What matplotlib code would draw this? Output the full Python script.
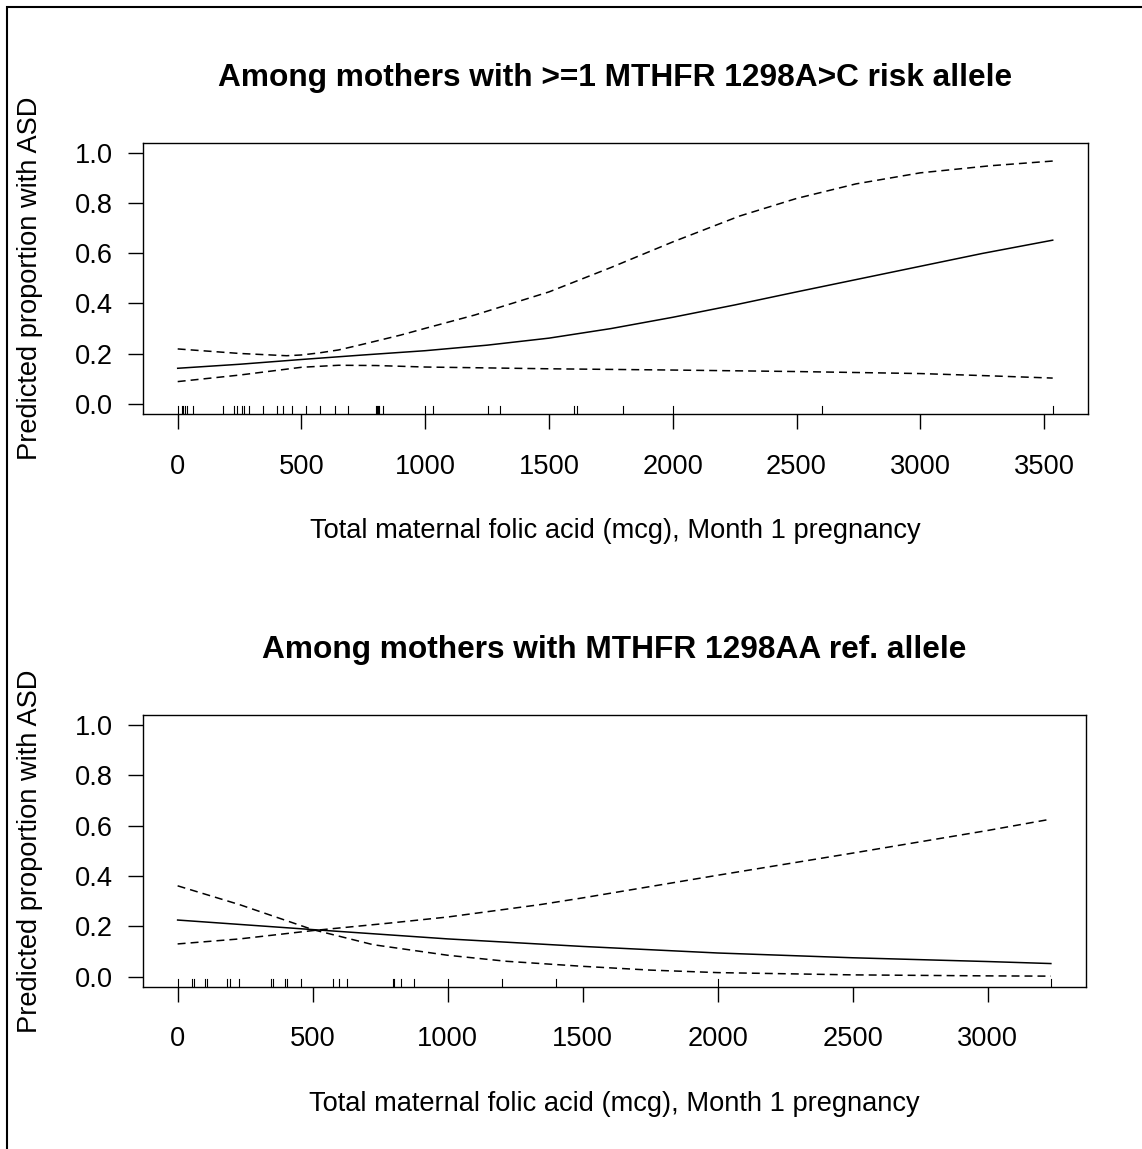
import matplotlib
matplotlib.use("Agg")
import matplotlib.pyplot as plt
from matplotlib.patches import Rectangle

plt.rcParams['font.family'] = ['Liberation Sans', 'DejaVu Sans']

# ---- panel 1: >=1 MTHFR 1298A>C risk allele ----
top_title = "Among mothers with >=1 MTHFR 1298A>C risk allele"
top_fit_x = [0, 250, 500, 750, 1000, 1250, 1500, 1750, 2000, 2250, 2500, 2750, 3000, 3250, 3535]
top_fit_y = [0.142, 0.158, 0.177, 0.195, 0.212, 0.234, 0.262, 0.300, 0.345, 0.394, 0.446, 0.497,
             0.548, 0.599, 0.652]
top_hi_x = [0, 250, 440, 500, 570, 650, 720, 800, 900, 1000, 1200, 1500, 1750, 2000, 2270, 2500,
            2740, 3000, 3280, 3535]
top_hi_y = [0.219, 0.201, 0.192, 0.195, 0.203, 0.215, 0.231, 0.250, 0.274, 0.301, 0.354, 0.446,
            0.543, 0.645, 0.748, 0.818, 0.876, 0.920, 0.948, 0.967]
top_lo_x = [0, 250, 500, 650, 800, 1000, 1500, 2000, 2500, 3000, 3280, 3535]
top_lo_y = [0.089, 0.115, 0.146, 0.154, 0.153, 0.147, 0.140, 0.135, 0.129, 0.121, 0.112, 0.103]
top_rug = [0, 16, 23, 31, 39, 61, 182, 228, 238, 260, 267, 288, 344, 400, 424, 461,
           520, 573, 635, 686, 800, 805, 809, 815, 828, 1000, 1030, 1252, 1301,
           1603, 1613, 1799, 2000, 2601, 3535]
top_xticks = [0, 500, 1000, 1500, 2000, 2500, 3000, 3500]

# ---- panel 2: MTHFR 1298AA reference ----
bot_title = "Among mothers with MTHFR 1298AA ref. allele"
bot_fit_x = [0, 500, 1000, 1500, 2000, 2500, 3000, 3234]
bot_fit_y = [0.225, 0.187, 0.150, 0.120, 0.094, 0.075, 0.060, 0.052]
bot_hi_x = [0, 230, 500, 786, 1000, 1341, 1500, 2000, 2500, 3000, 3234]
bot_hi_y = [0.130, 0.150, 0.183, 0.213, 0.237, 0.286, 0.313, 0.403, 0.491, 0.581, 0.626]
bot_lo_x = [0, 230, 500, 724, 1000, 1218, 1500, 1750, 2000, 2500, 3000, 3234]
bot_lo_y = [0.361, 0.286, 0.187, 0.127, 0.085, 0.061, 0.041, 0.026, 0.016, 0.007, 0.003, 0.002]
bot_rug = [0, 54, 60, 102, 110, 183, 193, 227, 347, 354, 399, 404, 458, 574, 596,
           628, 797, 803, 826, 875, 1000, 1200, 1400, 2000, 3234]
bot_xticks = [0, 500, 1000, 1500, 2000, 2500, 3000]

yticks = [0.0, 0.2, 0.4, 0.6, 0.8, 1.0]
xlab = "Total maternal folic acid (mcg), Month 1 pregnancy"
ylab = "Predicted proportion with ASD"

W, H = 1142, 1149
fig = plt.figure(figsize=(W / 100, H / 100), dpi=100)

# outer frame (runs off the right and bottom edges)
fig.patches.append(Rectangle((7 / W, -0.1), 1.2, 1.1 - 7 / H, transform=fig.transFigure,
                             fill=False, edgecolor='black', lw=1.5))

dash = (0, (5.2, 3.3))
fs = 19.6


def panel(rect, title, fx, fy, hx, hy, lx, ly, rug, xticks):
    ax = fig.add_axes(rect)
    ax.plot(fx, fy, color='black', lw=1.1)
    ax.plot(hx, hy, color='black', lw=1.1, linestyle=dash)
    ax.plot(lx, ly, color='black', lw=1.1, linestyle=dash)
    # rug along the bottom
    for v in rug:
        ax.plot([v, v], [0, 0.03], transform=ax.get_xaxis_transform(), color='black', lw=0.8)
    xmax = max(fx)
    pad = 0.04 * xmax
    ax.set_xlim(-pad, xmax + pad)
    ax.set_ylim(-0.04, 1.04)
    ax.set_xticks(xticks)
    ax.set_xticklabels([str(t) for t in xticks])
    ax.set_yticks(yticks)
    ax.set_yticklabels(["%.1f" % t for t in yticks])
    ax.tick_params(axis='x', length=10.5, width=1, labelsize=fs, pad=18)
    ax.tick_params(axis='y', length=10.5, width=1, labelsize=fs, pad=11)
    for s in ax.spines.values():
        s.set_linewidth(1)
    ax.set_xlabel(xlab, fontsize=fs)
    ax.xaxis.set_label_coords(0.5, -0.431)
    ax.xaxis.label.set_va('center')
    ax.set_ylabel(ylab, fontsize=fs)
    ax.yaxis.set_label_coords(-0.1195, 0.5)
    ax.yaxis.label.set_va('center')
    ax.set_title(title, fontsize=22.8, fontweight='bold', y=1.238, va='center', pad=0)
    return ax


panel([142.7 / W, 1 - 414 / H, (1087.7 - 142.7) / W, (414 - 142.7) / H], top_title,
      top_fit_x, top_fit_y, top_hi_x, top_hi_y, top_lo_x, top_lo_y, top_rug, top_xticks)
panel([142.7 / W, 1 - 986.7 / H, (1085.8 - 142.7) / W, (986.7 - 715) / H], bot_title,
      bot_fit_x, bot_fit_y, bot_hi_x, bot_hi_y, bot_lo_x, bot_lo_y, bot_rug, bot_xticks)

fig.savefig("out.png", dpi=100)
